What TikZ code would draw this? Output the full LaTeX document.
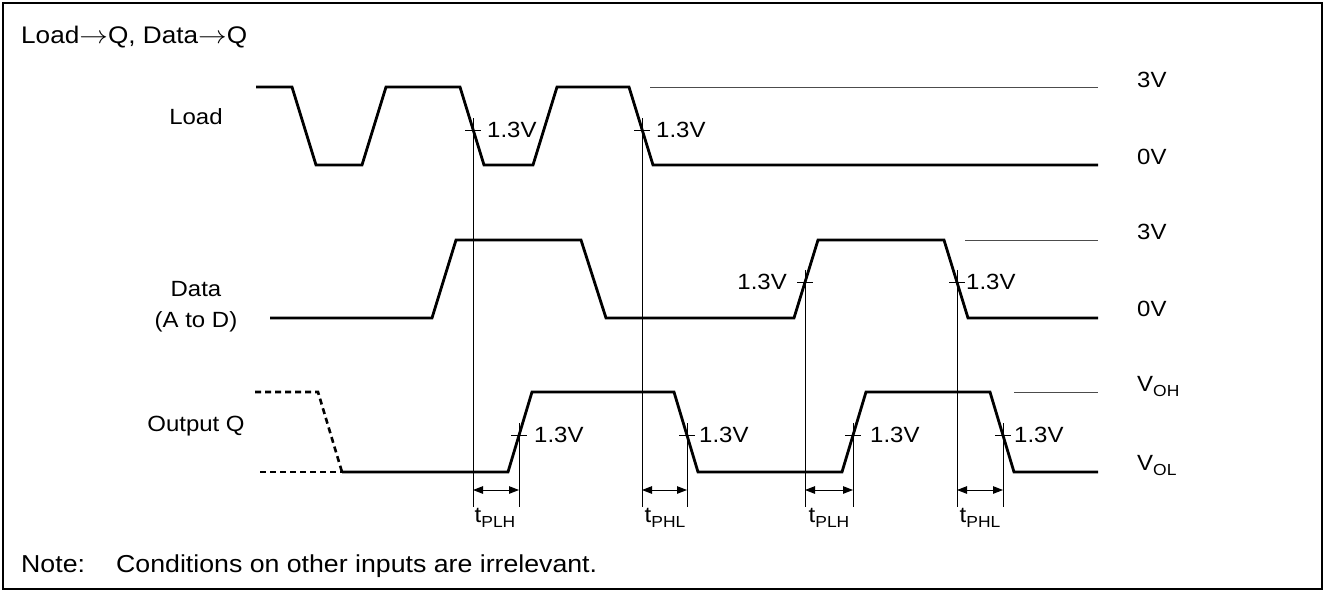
\documentclass[tikz,border=0pt]{standalone}
\usepackage{fontspec}
\setmainfont{Liberation Sans}[FakeStretch=1.09]
\usetikzlibrary{arrows.meta,calc}

\newcommand{\lowsub}[1]{\raisebox{-5pt}{\fontsize{16}{16}\selectfont #1}}
\newcommand{\wideto}{\scalebox{1.15}[1]{$\rightarrow$}}

\begin{document}
\begin{tikzpicture}[x=1pt, y=-1pt,
    wave/.style={line width=2.8pt, line join=miter},
    ghost/.style={line width=2.6pt, dash pattern=on 6pt off 4pt},
    refline/.style={line width=1pt, black!70},
    guide/.style={line width=1pt},
    dly/.style={line width=1pt, {Triangle[length=10pt,width=7.5pt]}-{Triangle[length=10pt,width=7.5pt]}},
    lbl/.style={font=\fontsize{22}{31}\selectfont, inner sep=0pt},
    lvl/.style={lbl, anchor=base west},
    vth/.style={lbl, anchor=west},
    notetxt/.style={lbl, anchor=base west, font=\fontsize{24.5}{28}\selectfont}
]
\useasboundingbox (0,0) rectangle (1326,592);

% frame and title
\draw[line width=2.5pt] (3,3) rectangle (1322,589);
\node[lbl, anchor=base west, font=\fontsize{24}{26}\selectfont] (title) at (21,43) {Load\wideto Q, Data\wideto Q};

% signal names
\node[lbl] (load) at (196,117) {Load};
\node[lbl, align=center] (data) at (196,307) {Data\\(A to D)};
\node[lbl] (outq) at (196,426) {Output Q};

% Load
\draw[wave] (256,87) -- (292,87) -- (316,165) -- (362,165) -- (386,87) -- (460,87)
  -- (484,165) -- (533,165) -- (557,87) -- (629,87) -- (653,165) -- (1098,165);
\draw[refline] (650,87) -- (1098,87);

% Data
\draw[wave] (270,318) -- (432,318) -- (456,240) -- (581,240) -- (606,318) -- (794,318)
  -- (818,240) -- (944,240) -- (968,318) -- (1098,318);
\draw[refline] (965,240) -- (1098,240);

% Output Q
\draw[ghost] (255,392) -- (318,392) -- (342,472);
\draw[ghost] (260,472) -- (342,472);
\draw[wave] (342,472) -- (508,472) -- (532,392) -- (674,392) -- (698,472) -- (842,472)
  -- (866,392) -- (990,392) -- (1014,472) -- (1098,472);
\draw[refline] (1014,392) -- (1098,392);

% 1.3V points
\coordinate (ld1) at (473,130);
\coordinate (ld2) at (642,130);
\coordinate (da1) at (805,282);
\coordinate (da2) at (957,282);
\coordinate (oq1) at (519,435);
\coordinate (oq2) at (687,435);
\coordinate (oq3) at (853,435);
\coordinate (oq4) at (1003,435);
\coordinate (bot) at (0,507);
\coordinate (arr) at (0,490);

\foreach \c in {ld1,ld2,da1,da2,oq1,oq2,oq3,oq4}{
  \draw[guide] ($(\c)+(-8,0)$) -- ($(\c)+(8,0)$);
  \draw[guide] ($(\c)+(0,-12)$) -- (\c |- bot);
}

\node[vth] (v1) at ($(ld1)+(14,0)$) {1.3V};
\node[vth] (v2) at ($(ld2)+(14,0)$) {1.3V};
\node[lbl, anchor=east] (v3) at ($(da1)+(-18,0)$) {1.3V};
\node[vth] (v4) at ($(da2)+(9,0)$) {1.3V};
\node[vth] (v5) at ($(oq1)+(15,0)$) {1.3V};
\node[vth] (v6) at ($(oq2)+(12,0)$) {1.3V};
\node[vth] (v7) at ($(oq3)+(17,0)$) {1.3V};
\node[vth] (v8) at ($(oq4)+(11,0)$) {1.3V};

% delays
\draw[dly] (ld1 |- arr) -- (oq1 |- arr);
\draw[dly] (ld2 |- arr) -- (oq2 |- arr);
\draw[dly] (da1 |- arr) -- (oq3 |- arr);
\draw[dly] (da2 |- arr) -- (oq4 |- arr);
\node[lbl, anchor=base] (t1) at (495,522) {t\lowsub{PLH}};
\node[lbl, anchor=base] (t2) at (665,522) {t\lowsub{PHL}};
\node[lbl, anchor=base] (t3) at (829,522) {t\lowsub{PLH}};
\node[lbl, anchor=base] (t4) at (980,522) {t\lowsub{PHL}};

% levels
\node[lvl] (l3a) at (1137,87) {3V};
\node[lvl] (l0a) at (1137,164) {0V};
\node[lvl] (l3b) at (1137,239) {3V};
\node[lvl] (l0b) at (1137,316) {0V};
\node[lvl] (voh) at (1137,391) {V\lowsub{OH}};
\node[lvl] (vol) at (1137,470) {V\lowsub{OL}};

% note
\node[notetxt] (note) at (21,572) {Note:};
\node[notetxt] (cond) at (116,572) {Conditions on other inputs are irrelevant.};
\end{tikzpicture}
\end{document}
